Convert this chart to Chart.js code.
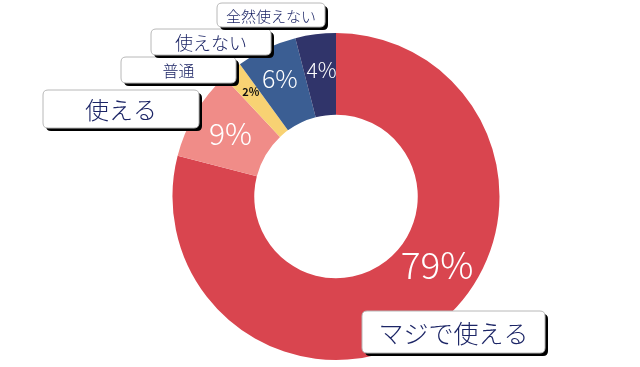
<!DOCTYPE html>
<html>
<head>
<meta charset="utf-8">
<script src="https://cdn.jsdelivr.net/npm/chart.js@4/dist/chart.umd.min.js"></script>
<style>
  html, body { margin: 0; padding: 0; background: #fff; }
  #wrap { width: 640px; height: 367px; }
</style>
</head>
<body>
<div id="wrap"><canvas id="chart--donut"></canvas></div>
<script>
const labels_donut = ['マジで使える', '使える', '普通', '使えない', '全然使えない'];
const values_donut = [79, 9, 2, 6, 4];
const colors_donut = ['#d9454f', '#f08c88', '#f8d273', '#3b5e93', '#30346a'];

// callout boxes (x, y, w, h, font size), same order as labels
const boxes = [
    { x: 362, y: 311, w: 183, h: 42, size: 25 },
    { x: 43, y: 90, w: 156, h: 38, size: 24 },
    { x: 121, y: 57, w: 115, h: 26, size: 16 },
    { x: 151, y: 29, w: 120, h: 26, size: 18 },
    { x: 217, y: 3, w: 108, h: 24, size: 15 }
];
// percent text: size, nudge from slice centre, colour
const pct_style = [
    { size: 37, dx: 26, dy: -28, color: '#fff', weight: '300' },
    { size: 30, dx: 0, dy: 0, color: '#fff', weight: '300' },
    { size: 11, dx: -7, dy: -10, color: '#111', weight: 'bold' },
    { size: 25, dx: -4, dy: -7, color: '#fff', weight: '300' },
    { size: 21, dx: 1, dy: -5, color: '#fff', weight: '300' }
];

const FONT = '"Noto Sans CJK JP", "Noto Sans", sans-serif';

function roundRect(ctx, x, y, w, h, r) {
    ctx.beginPath();
    ctx.moveTo(x + r, y);
    ctx.lineTo(x + w - r, y);
    ctx.quadraticCurveTo(x + w, y, x + w, y + r);
    ctx.lineTo(x + w, y + h - r);
    ctx.quadraticCurveTo(x + w, y + h, x + w - r, y + h);
    ctx.lineTo(x + r, y + h);
    ctx.quadraticCurveTo(x, y + h, x, y + h - r);
    ctx.lineTo(x, y + r);
    ctx.quadraticCurveTo(x, y, x + r, y);
    ctx.closePath();
}

const donutLabels = {
    id: 'donutLabels',
    afterDatasetsDraw(chart) {
        const ctx = chart.ctx;
        const meta = chart.getDatasetMeta(0);
        const total = values_donut.reduce((a, b) => a + b, 0);
        ctx.save();
        ctx.textAlign = 'center';
        ctx.textBaseline = 'middle';
        meta.data.forEach((arc, i) => {
            const p = arc.tooltipPosition();
            const s = pct_style[i];
            ctx.fillStyle = s.color;
            ctx.font = s.weight + ' ' + s.size + 'px ' + FONT;
            const txt = Math.round(values_donut[i] / total * 100) + '%';
            ctx.fillText(txt, p.x + s.dx, p.y + s.dy);
        });
        boxes.forEach((b, i) => {
            ctx.fillStyle = '#000';
            roundRect(ctx, b.x + 3, b.y + 3, b.w, b.h, 5);
            ctx.fill();
            ctx.fillStyle = '#fff';
            roundRect(ctx, b.x, b.y, b.w, b.h, 5);
            ctx.fill();
            ctx.strokeStyle = '#b8b8b8';
            ctx.lineWidth = 1;
            ctx.stroke();
            ctx.fillStyle = '#1c2566';
            ctx.font = '300 ' + b.size + 'px ' + FONT;
            ctx.fillText(labels_donut[i], b.x + b.w / 2, b.y + b.h / 2 + 1);
        });
        ctx.restore();
    }
};

const config_donut = {
    type: 'doughnut',
    data: {
        labels: labels_donut,
        datasets: [{
            data: values_donut,
            backgroundColor: colors_donut,
            borderWidth: 0,
            hoverOffset: 0
        }]
    },
    options: {
        responsive: true,
        maintainAspectRatio: false,
        animation: false,
        cutout: '50%',
        layout: {
            padding: { left: 172, right: 140, top: 33, bottom: 7 }
        },
        plugins: {
            legend: { display: false },
            tooltip: { enabled: false }
        }
    },
    plugins: [donutLabels]
};

var chartdonut = new Chart(
    document.getElementById('chart--donut'),
    config_donut
);
</script>
</body>
</html>
